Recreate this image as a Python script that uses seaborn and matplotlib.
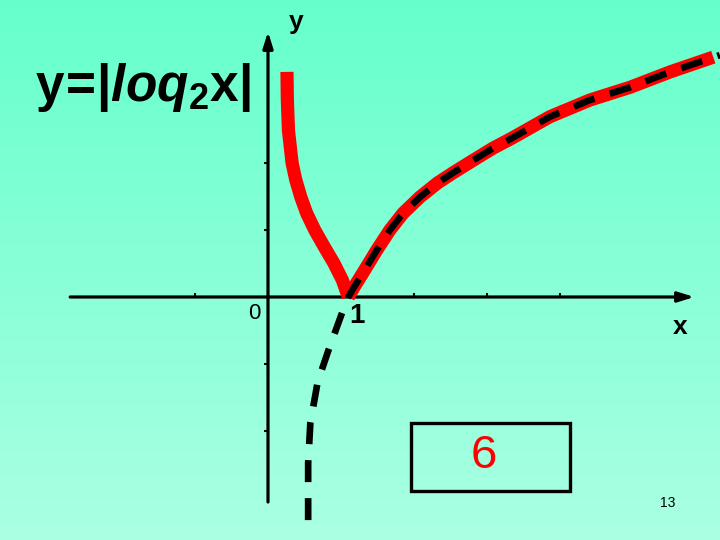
import numpy as np
import matplotlib.pyplot as plt
import matplotlib.patches as patches
import seaborn as sns

# points (units: x ~73px, y ~67px, origin at the axes cross)
red_left_x = [0.26, 0.265, 0.28, 0.33, 0.38, 0.45, 0.53, 0.64, 0.77, 0.90, 1.02, 1.10]
red_left_y = [3.36, 2.94, 2.49, 2.00, 1.75, 1.49, 1.25, 1.00, 0.75, 0.51, 0.25, 0.00]

log_x = [0.55, 0.55, 0.58, 0.68, 0.82, 1.03, 1.10, 1.18, 1.30, 1.49, 1.67, 1.85, 2.08, 2.32,
         2.53, 2.81, 3.08, 3.34, 3.86, 4.41, 4.96, 5.51, 6.19]
log_y = [-3.33, -2.48, -1.88, -1.27, -0.82, -0.19, 0.00, 0.15, 0.36, 0.70, 1.00, 1.25, 1.49, 1.70,
         1.85, 2.04, 2.22, 2.37, 2.69, 2.94, 3.13, 3.36, 3.61]

red_right_x = [1.10, 1.18, 1.30, 1.49, 1.67, 1.85, 2.08, 2.32, 2.53, 2.81, 3.08, 3.34, 3.86, 4.41, 4.96, 5.51, 6.10]
red_right_y = [0.00, 0.15, 0.36, 0.70, 1.00, 1.25, 1.49, 1.70, 1.85, 2.04, 2.22, 2.37, 2.69, 2.94, 3.13, 3.36, 3.58]

x_ticks = [-1, 2, 3, 4]
y_ticks = [-2, -1, 1, 2]

sns.set_theme(style="white")
plt.rcParams['font.family'] = ['Liberation Sans', 'DejaVu Sans']
plt.rcParams['text.color'] = 'black'
plt.rcParams['mathtext.fontset'] = 'custom'
plt.rcParams['mathtext.rm'] = 'Liberation Sans:bold'
plt.rcParams['mathtext.it'] = 'Liberation Sans:bold:italic'
plt.rcParams['mathtext.bf'] = 'Liberation Sans:bold'

fig = plt.figure(figsize=(7.2, 5.4), dpi=100)
ax = fig.add_axes([0, 0, 1, 1])
xmin, xmax = -268 / 73, (720 - 268) / 73
ymin, ymax = (297 - 540) / 67, 297 / 67

# background gradient
top = np.array([102, 255, 204]) / 255
bottom = np.array([170, 255, 226]) / 255
t = np.linspace(0, 1, 256)[:, None, None]
grad = top * (1 - t) + bottom * t
ax.imshow(grad, extent=[xmin, xmax, ymin, ymax], aspect='auto', zorder=0)

# axes arrows
arrow = dict(arrowstyle="-|>,head_length=0.8,head_width=0.25", lw=2.3, color="black",
             shrinkA=0, shrinkB=0)
ax.annotate("", xy=(5.84, 0), xytext=(-2.71, 0), arrowprops=arrow, zorder=2)
ax.annotate("", xy=(0, 3.96), xytext=(0, -3.06), arrowprops=arrow, zorder=2)
ax.vlines(x_ticks, 0, 0.06, color="black", lw=1.5, zorder=2)
ax.hlines(y_ticks, -0.06, 0, color="black", lw=1.5, zorder=2)

# |log2 x| in red
for xs, ys in [(red_left_x, red_left_y), (red_right_x, red_right_y)]:
    sns.lineplot(x=xs, y=ys, sort=False, estimator=None, color="#ff0000", lw=9.5,
                 solid_capstyle="butt", solid_joinstyle="round", ax=ax, zorder=3)
# log2 x dashed
sns.lineplot(x=log_x, y=log_y, sort=False, estimator=None, color="black", lw=4.8,
             linestyle=(0, (3.3, 2.4)), dash_capstyle="butt", ax=ax, zorder=4)

ax.text(0.38, 4.10, "y", fontsize=19, fontweight="bold", ha="center", va="center")
ax.text(5.64, -0.45, "x", fontsize=19, fontweight="bold", ha="center", va="center")
ax.text(-0.19, -0.24, "0", fontsize=16, ha="center", va="center")
ax.text(1.22, -0.28, "1", fontsize=20, fontweight="bold", ha="center", va="center")

fig.text(143 / 720, 1 - 88 / 540, r"$\mathrm{y}\!=\!|\mathit{loq}_{\mathrm{2}}\mathrm{x}|$",
         fontsize=37, ha="center", va="center")

box = patches.Rectangle((1.96, -2.90), 2.18, 1.02, fill=False, edgecolor="black", lw=2.4, zorder=2)
ax.add_patch(box)
ax.text(2.95, -2.37, "6", fontsize=34, color="#ff0000", ha="center", va="center")
fig.text(668 / 720, 1 - 503 / 540, "13", fontsize=10, ha="center", va="center")

ax.set_xlim(xmin, xmax)
ax.set_ylim(ymin, ymax)
ax.axis("off")
fig.savefig("out.png", dpi=100)
